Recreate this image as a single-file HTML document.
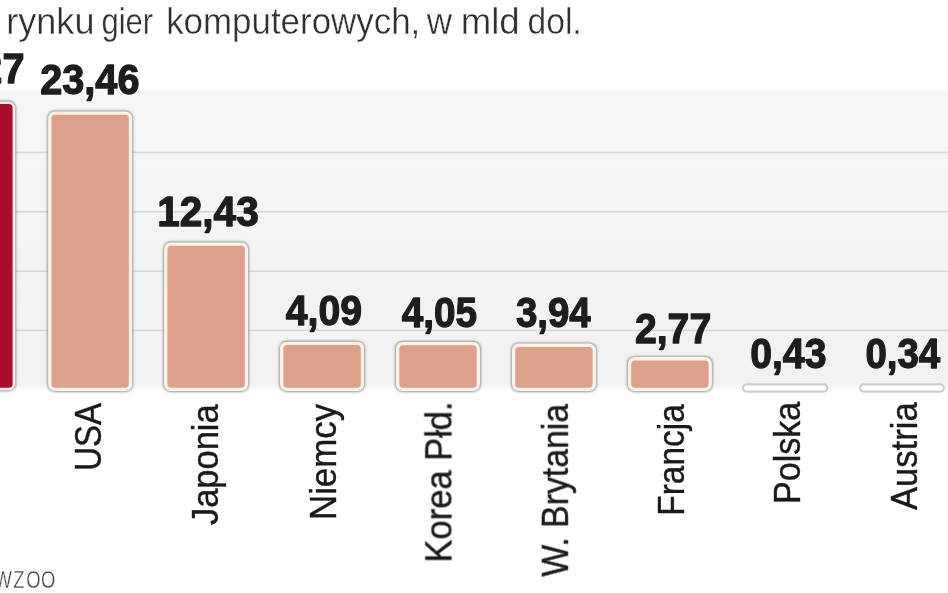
<!DOCTYPE html>
<html lang="pl"><head><meta charset="utf-8"><title>Wykres</title>
<style>
html,body{margin:0;padding:0;background:#fff;}
body{width:948px;height:593px;overflow:hidden;position:relative;font-family:"Liberation Sans",sans-serif;}
svg{display:block;position:absolute;left:0;top:0;overflow:visible;filter:blur(0.45px);}
text{font-family:"Liberation Sans",sans-serif;}
.val{font-weight:bold;fill:#1d1d1f;stroke:#1d1d1f;stroke-width:1.3px;stroke-linejoin:round;}
.lab{fill:#1a1a1a;stroke:#1a1a1a;stroke-width:0.4px;}
.ttl{fill:#303030;stroke:#fff;stroke-width:0.4px;}
.src{fill:#444;stroke:#fff;stroke-width:0.35px;}
</style></head><body>
<svg width="948" height="593" viewBox="0 0 948 593">
<defs>
<linearGradient id="bg" x1="0" y1="0" x2="0" y2="1">
<stop offset="0" stop-color="#ffffff"/><stop offset="0.012" stop-color="#f6f6f6"/><stop offset="0.968" stop-color="#f1f1f2"/><stop offset="0.995" stop-color="#ffffff"/>
</linearGradient>
<filter id="sh" x="-10%" y="-10%" width="120%" height="120%"><feGaussianBlur stdDeviation="0.9"/></filter>
<filter id="soft"><feGaussianBlur stdDeviation="0.6"/></filter>
</defs>

<rect x="-5" y="89" width="960" height="304" fill="url(#bg)" filter="url(#soft)"/>
<rect x="-5" y="151.65" width="960" height="1.5" fill="#d6d6d6" filter="url(#soft)"/>
<rect x="-5" y="211.05" width="960" height="1.5" fill="#d6d6d6" filter="url(#soft)"/>
<rect x="-5" y="270.35" width="960" height="1.5" fill="#d6d6d6" filter="url(#soft)"/>
<rect x="-5" y="329.65" width="960" height="1.5" fill="#d6d6d6" filter="url(#soft)"/>
<rect x="-69.7" y="100.6" width="85.8" height="290.6" rx="7.3" fill="#6a6f74" opacity="0.72" filter="url(#sh)"/>
<rect x="-68.8" y="101.5" width="84" height="288.8" rx="6.5" fill="#fde8ea"/>
<rect x="-66.20" y="104.10" width="78.80" height="283.60" rx="3.8" fill="#a80e2b"/>
<rect x="47.25" y="110.6" width="85.8" height="281.3" rx="7.3" fill="#6a6f74" opacity="0.72" filter="url(#sh)"/>
<rect x="48.15" y="111.5" width="84" height="279.5" rx="6.5" fill="#fdf1e8"/>
<rect x="51.45" y="114.80" width="77.40" height="272.90" rx="3.8" fill="#dca18b"/>
<rect x="163.2" y="241.5" width="85.8" height="150.4" rx="7.3" fill="#6a6f74" opacity="0.72" filter="url(#sh)"/>
<rect x="164.1" y="242.4" width="84" height="148.6" rx="6.5" fill="#fdf1e8"/>
<rect x="167.40" y="245.70" width="77.40" height="142.00" rx="3.8" fill="#dca18b"/>
<rect x="279.15000000000003" y="340.8" width="85.8" height="51.10000000000001" rx="7.3" fill="#6a6f74" opacity="0.72" filter="url(#sh)"/>
<rect x="280.05" y="341.7" width="84" height="49.30000000000001" rx="6.5" fill="#fdf1e8"/>
<rect x="283.35" y="345.00" width="77.40" height="42.70" rx="3.8" fill="#dca18b"/>
<rect x="395.1" y="341.1" width="85.8" height="50.8" rx="7.3" fill="#6a6f74" opacity="0.72" filter="url(#sh)"/>
<rect x="396.0" y="342.0" width="84" height="49.0" rx="6.5" fill="#fdf1e8"/>
<rect x="399.30" y="345.30" width="77.40" height="42.40" rx="3.8" fill="#dca18b"/>
<rect x="511.05" y="342.70000000000005" width="85.8" height="49.199999999999974" rx="7.3" fill="#6a6f74" opacity="0.72" filter="url(#sh)"/>
<rect x="511.95" y="343.6" width="84" height="47.39999999999998" rx="6.5" fill="#fdf1e8"/>
<rect x="515.25" y="346.90" width="77.40" height="40.80" rx="3.8" fill="#dca18b"/>
<rect x="627.0" y="356.20000000000005" width="85.8" height="35.699999999999974" rx="7.3" fill="#6a6f74" opacity="0.72" filter="url(#sh)"/>
<rect x="627.9" y="357.1" width="84" height="33.89999999999998" rx="6.5" fill="#fdf1e8"/>
<rect x="631.20" y="360.40" width="77.40" height="27.30" rx="3.8" fill="#dca18b"/>
<rect x="741.9" y="383.3" width="86.5" height="9.4" rx="4.7" fill="#cdcdcd" filter="url(#soft)"/>
<rect x="744.1" y="385.6" width="82.1" height="5" rx="2.5" fill="#ffffff" filter="url(#soft)"/>
<rect x="859.0" y="383.3" width="86.0" height="9.4" rx="4.7" fill="#cdcdcd" filter="url(#soft)"/>
<rect x="861.2" y="385.6" width="81.6" height="5" rx="2.5" fill="#ffffff" filter="url(#soft)"/>
<text class="ttl" y="33.6" font-size="37"><tspan x="6.26" textLength="88.23" lengthAdjust="spacingAndGlyphs">rynku</tspan> <tspan x="101.46" textLength="51.75" lengthAdjust="spacingAndGlyphs">gier</tspan> <tspan x="166.13" textLength="254.19" lengthAdjust="spacingAndGlyphs">komputerowych,</tspan> <tspan x="426.68" textLength="25.36" lengthAdjust="spacingAndGlyphs">w</tspan> <tspan x="460.71" textLength="59.06" lengthAdjust="spacingAndGlyphs">mld</tspan> <tspan x="527.53" textLength="54.16" lengthAdjust="spacingAndGlyphs">dol.</tspan></text>
<text class="val" x="-19.67" y="82.9" font-size="43.3" textLength="44.18" lengthAdjust="spacingAndGlyphs">27</text>
<text class="val" x="40.16" y="93.9" font-size="43.3" textLength="99.34" lengthAdjust="spacingAndGlyphs">23,46</text>
<text class="val" x="157.22" y="226.0" font-size="43.3" textLength="101.52" lengthAdjust="spacingAndGlyphs">12,43</text>
<text class="val" x="285.69" y="325.3" font-size="43.3" textLength="76.30" lengthAdjust="spacingAndGlyphs">4,09</text>
<text class="val" x="401.65" y="327.0" font-size="43.3" textLength="75.29" lengthAdjust="spacingAndGlyphs">4,05</text>
<text class="val" x="515.95" y="327.0" font-size="43.3" textLength="74.76" lengthAdjust="spacingAndGlyphs">3,94</text>
<text class="val" x="634.94" y="343.0" font-size="43.3" textLength="76.27" lengthAdjust="spacingAndGlyphs">2,77</text>
<text class="val" x="750.20" y="368.2" font-size="43.3" textLength="76.27" lengthAdjust="spacingAndGlyphs">0,43</text>
<text class="val" x="865.43" y="368.2" font-size="43.3" textLength="74.80" lengthAdjust="spacingAndGlyphs">0,34</text>
<text class="lab" transform="translate(101.2,470.82) rotate(-90)" font-size="36.5" textLength="67.76" lengthAdjust="spacingAndGlyphs">USA</text>
<text class="lab" transform="translate(217.8,525.10) rotate(-90)" font-size="36.5" textLength="120.81" lengthAdjust="spacingAndGlyphs">Japonia</text>
<text class="lab" transform="translate(335.5,520.03) rotate(-90)" font-size="36.5" textLength="116.13" lengthAdjust="spacingAndGlyphs">Niemcy</text>
<text class="lab" transform="translate(451.4,562.54) rotate(-90)" font-size="36.5" textLength="161.11" lengthAdjust="spacingAndGlyphs">Korea Płd.</text>
<text class="lab" transform="translate(567.9,576.68) rotate(-90)" font-size="36.5" textLength="172.85" lengthAdjust="spacingAndGlyphs">W. Brytania</text>
<text class="lab" transform="translate(684.3,515.81) rotate(-90)" font-size="36.5" textLength="111.67" lengthAdjust="spacingAndGlyphs">Francja</text>
<text class="lab" transform="translate(800.3,504.00) rotate(-90)" font-size="36.5" textLength="102.29" lengthAdjust="spacingAndGlyphs">Polska</text>
<text class="lab" transform="translate(916.9,510.05) rotate(-90)" font-size="36.5" textLength="107.69" lengthAdjust="spacingAndGlyphs">Austria</text>
<text class="src" transform="scale(0.8,1)" x="-45 -25 -6.75 16.65 32.9 51.15" y="588" font-size="23">NEWZOO</text>
</svg></body></html>
